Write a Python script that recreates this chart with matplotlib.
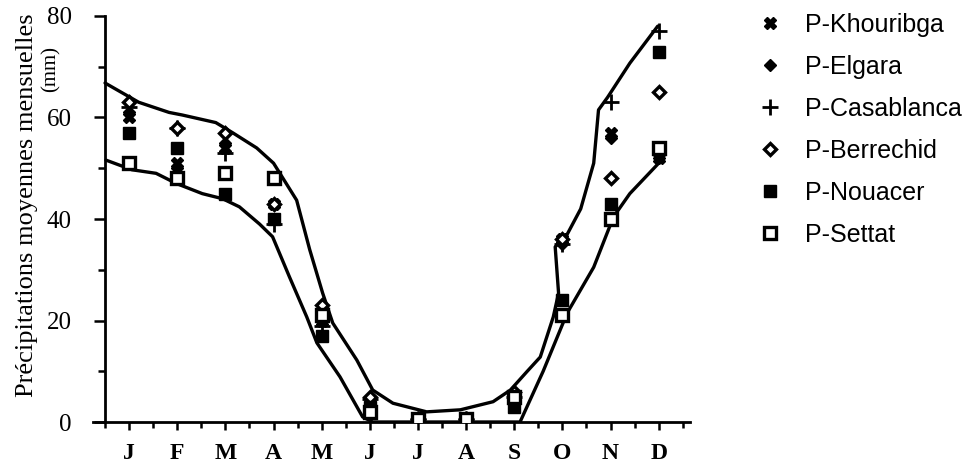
import matplotlib

matplotlib.use("Agg")
import matplotlib.pyplot as plt
from matplotlib.lines import Line2D
from matplotlib.ticker import MultipleLocator, FixedLocator

# monthly mean precipitation (mm)
months = ["J", "F", "M", "A", "M", "J", "J", "A", "S", "O", "N", "D"]
khouribga = [60, 51, 54, 43, 20, 4, 0.5, 0.5, 5, 36, 57, 52]
elgara = [61, 50, 55, 43, 22, 4, 0.5, 0.5, 5, 35, 56, 52]
casablanca = [62, 58, 53, 39, 19, 4.5, 0.5, 0.5, 5, 35, 63, 77]
berrechid = [63, 58, 57, 43, 23, 5, 0.5, 0.5, 6, 36, 48, 65]
nouacer = [57, 54, 45, 40, 17, 3, 0.5, 0.5, 3, 24, 43, 73]
settat = [51, 48, 49, 48, 21, 2, 0.5, 0.5, 5, 21, 40, 54]

# hand-drawn envelope curves (month index, mm)
upper_x = [-0.5, 0.2, 0.83, 1.1, 1.8, 2.15, 2.65, 3.0, 3.48, 3.75, 4.02, 4.23, 4.73, 5.06,
           5.48, 6.18, 6.88, 7.56, 7.92, 8.27, 8.54, 8.81, 8.92, 8.85, 9.1, 9.38, 9.65,
           9.75, 9.94, 10.4, 10.98]
upper_y = [66.8, 63, 61, 60.5, 59, 57, 54, 51, 43.7, 34, 25.4, 19.5, 12.2, 6.3,
           3.7, 2, 2.4, 4, 6.3, 10, 12.8, 20.7, 25.4, 34.5, 37, 42, 51,
           61.5, 64, 70.7, 78]
lower_x = [-0.48, 0.06, 0.56, 0.98, 1.52, 1.94, 2.29, 2.71, 2.98, 3.33, 3.69, 3.9, 4.38,
           4.85, 5.06, 8.12, 8.6, 9.1, 9.65, 10.06, 10.4, 11.1]
lower_y = [51.6, 49.7, 49, 47, 45, 44, 42.4, 39, 36.5, 28.6, 20.7, 15.6, 8.9,
           1, 0, 0, 10, 21.5, 30.5, 40.4, 45, 52]

SERIF = ["Liberation Serif", "DejaVu Serif"]
SANS = ["Liberation Sans", "DejaVu Sans"]

fig = plt.figure(figsize=(9.71, 4.73), dpi=100)
ax = fig.add_axes([93 / 971, 1 - 422 / 473, 597 / 971, 406 / 473])

x = list(range(len(months)))
ax.plot(upper_x, upper_y, color="black", lw=2.4, solid_joinstyle="round", solid_capstyle="round")
ax.plot(lower_x, lower_y, color="black", lw=2.4, solid_joinstyle="round", solid_capstyle="round")

styles = [
    (khouribga, "P-Khouribga", dict(marker="X", ms=9, mfc="black", mec="black")),
    (elgara, "P-Elgara", dict(marker="D", ms=6.5, mfc="black", mec="black")),
    (casablanca, "P-Casablanca", dict(marker="+", ms=12, mec="black", mew=2.0)),
    (berrechid, "P-Berrechid", dict(marker="D", ms=6.5, mfc="white", mec="black", mew=2.4)),
    (nouacer, "P-Nouacer", dict(marker="s", ms=8, mfc="black", mec="black")),
    (settat, "P-Settat", dict(marker="s", ms=8, mfc="white", mec="black", mew=2.4)),
]
handles = []
for vals, lab, st in styles:
    ax.plot(x, vals, linestyle="none", zorder=3, **st)
    handles.append(Line2D([], [], linestyle="none", **st))

ax.set_xlim(-0.75, 11.65)
ax.set_ylim(0, 80)
ax.spines["left"].set_position(("data", -0.5))
ax.spines["left"].set_bounds(0, 80)
for s in ("top", "right"):
    ax.spines[s].set_visible(False)
for s in ("left", "bottom"):
    ax.spines[s].set_linewidth(2.0)

ax.set_xticks(x)
ax.set_xticklabels(months, fontfamily=SERIF, fontweight="bold", fontsize=17)
ax.xaxis.set_minor_locator(FixedLocator([i - 0.5 for i in range(13)]))
ax.set_yticks([0, 20, 40, 60, 80])
ax.set_yticklabels(["0", "20", "40", "60", "80"], fontfamily=SERIF, fontsize=18)
ax.yaxis.set_minor_locator(MultipleLocator(10))
ax.tick_params(axis="x", which="major", direction="out", length=6, width=1.8, pad=9)
ax.tick_params(axis="x", which="minor", direction="out", length=4, width=1.8)
ax.tick_params(axis="y", which="major", direction="out", length=8, width=1.8, pad=16)
ax.tick_params(axis="y", which="minor", direction="out", length=5, width=1.8)

fig.text(27 / 971, 1 - 205 / 473, "Précipitations moyennes mensuelles", rotation=90,
         ha="center", va="center", fontfamily=SERIF, fontsize=19)
fig.text(51 / 971, 1 - 69 / 473, "(mm)", rotation=90,
         ha="center", va="center", fontfamily=SERIF, fontsize=15)

fig.legend(handles, [s[1] for s in styles], loc="upper left",
           bbox_to_anchor=(757 / 971, 1 - 13 / 473), frameon=False,
           prop={"family": SANS, "size": 18}, handlelength=1.0, handletextpad=0.9,
           labelspacing=0.72, borderpad=0, borderaxespad=0)

fig.savefig("out.png", dpi=100)
